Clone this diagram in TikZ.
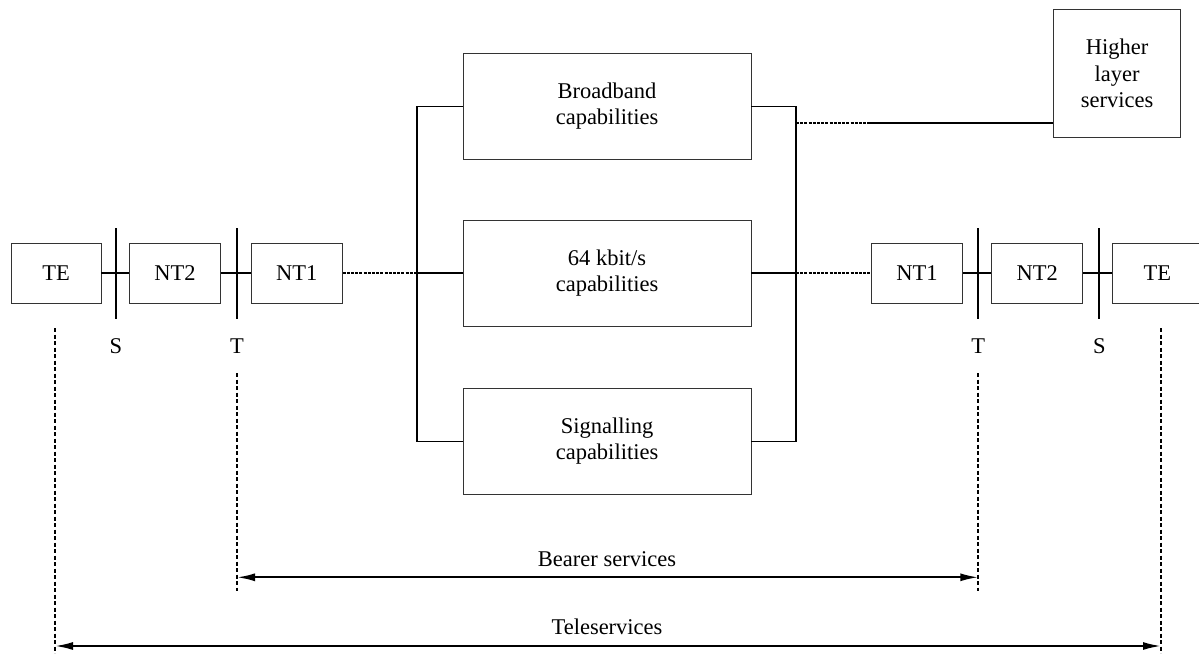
\documentclass[tikz,border=0pt]{standalone}
\usepackage{fontspec}
\setmainfont{Liberation Serif}
\usetikzlibrary{arrows.meta}
\begin{document}
\begin{tikzpicture}[x=1pt,y=-1pt,
  every node/.style={font=\fontsize{22.5}{26.5}\selectfont},
  box/.style={draw=black!80,line width=0.9pt,inner sep=0pt,align=center},
  smallbox/.style={box,minimum width=91pt,minimum height=60pt},
  capbox/.style={box,minimum width=288pt,minimum height=106pt},
  link/.style={line width=1.8pt},
  dotlink/.style={line width=1.8pt,dash pattern=on 3pt off 1.2pt},
  bus/.style={line width=1.2pt},
  refbar/.style={line width=2pt},
  guide/.style={line width=1.9pt,dash pattern=on 4pt off 2.5pt},
  span/.style={line width=2pt,{Latex[length=18pt,width=8pt]}-{Latex[length=18pt,width=8pt]}},
  lbl/.style={inner sep=1pt}]
\useasboundingbox (0,0) rectangle (1199,655);
% boxes
\node[smallbox,minimum width=90pt] (teL) at (56,273) {TE};
\node[smallbox] (nt2L) at (175,273) {NT2};
\node[smallbox] (nt1L) at (296.7,273) {NT1};
\node[capbox] (bb) at (607,106.3) {Broadband\\capabilities};
\node[capbox] (kb) at (607,273) {64 kbit/s\\capabilities};
\node[capbox] (sig) at (607,441.2) {Signalling\\capabilities};
\node[smallbox] (nt1R) at (917,273) {NT1};
\node[smallbox] (nt2R) at (1037.3,273) {NT2};
\node[smallbox,minimum width=90pt] (teR) at (1157.3,273) {TE};
\node[box,minimum width=127pt,minimum height=128pt] (hl) at (1117,73.5) {Higher\\layer\\services};
% bus coordinates
\coordinate (busL) at (417,273);
\coordinate (busLt) at (417,106.3);
\coordinate (busLb) at (417,441.2);
\coordinate (busR) at (796,273);
\coordinate (busRt) at (796,106.3);
\coordinate (busRb) at (796,441.2);
\coordinate (hlj) at (796,122.7);
\coordinate (hlm) at (869,122.7);
% links
\draw[link] (teL) -- (nt2L);
\draw[link] (nt2L) -- (nt1L);
\draw[dotlink] (nt1L) -- (busL);
\draw[link] (busL) -- (kb);
\draw[link] (kb) -- (busR);
\draw[dotlink] (busR) -- (nt1R);
\draw[link] (nt1R) -- (nt2R);
\draw[link] (nt2R) -- (teR);
\draw[bus] (bb.west) -- (busLt) -- (busLb) -- (sig.west);
\draw[bus] (bb.east) -- (busRt) -- (busRb) -- (sig.east);
\draw[dotlink] (hlj) -- (hlm);
\draw[link] (hlm) -- (hlj -| hl.west);
% reference points
\coordinate (S1t) at (116,228); \coordinate (S1b) at (116,319);
\coordinate (T1t) at (237,228); \coordinate (T1b) at (237,319);
\coordinate (T2t) at (978.3,228); \coordinate (T2b) at (978.3,319);
\coordinate (S2t) at (1099.3,228); \coordinate (S2b) at (1099.3,319);
\draw[refbar] (S1t) -- (S1b);
\draw[refbar] (T1t) -- (T1b);
\draw[refbar] (T2t) -- (T2b);
\draw[refbar] (S2t) -- (S2b);
\node[lbl] (lS1) at (116,346) {S};
\node[lbl] (lT1) at (237,346) {T};
\node[lbl] (lT2) at (978.3,346) {T};
\node[lbl] (lS2) at (1099.3,346) {S};
% guides
\coordinate (g1t) at (55,328); \coordinate (g1b) at (55,653);
\coordinate (g2t) at (237,373); \coordinate (g2b) at (237,591);
\coordinate (g3t) at (978.3,373); \coordinate (g3b) at (978.3,591);
\coordinate (g4t) at (1161,328); \coordinate (g4b) at (1161,653);
\draw[guide] (g1t) -- (g1b);
\draw[guide] (g2t) -- (g2b);
\draw[guide] (g3t) -- (g3b);
\draw[guide] (g4t) -- (g4b);
% spans
\coordinate (bsL) at (237,577.3); \coordinate (bsR) at (978.3,577.3);
\coordinate (tsL) at (55,646); \coordinate (tsR) at (1161,646);
\draw[span] (bsL) -- (bsR);
\draw[span] (tsL) -- (tsR);
\node[lbl] (bearer) at (607,559) {Bearer services};
\node[lbl] (tele) at (607,627) {Teleservices};
\end{tikzpicture}
\end{document}
